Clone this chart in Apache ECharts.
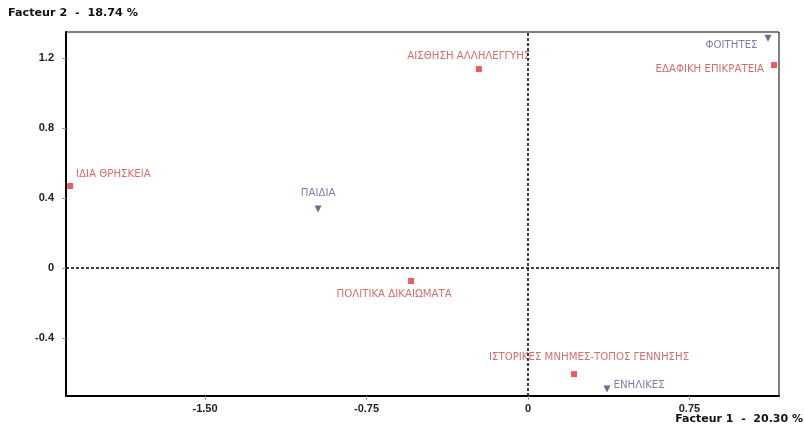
<!DOCTYPE html>
<html><head><meta charset="utf-8">
<script src="https://cdn.jsdelivr.net/npm/echarts@6/dist/echarts.min.js"></script>
<style>html,body{margin:0;padding:0;background:#fff}#c{width:804px;height:430px}</style>
</head><body><div id="c"></div>
<script>
// Data
const varNames = ['ΙΔΙΑ ΘΡΗΣΚΕΙΑ','ΑΙΣΘΗΣΗ ΑΛΛΗΛΕΓΓΥΗΣ','ΕΔΑΦΙΚΗ ΕΠΙΚΡΑΤΕΙΑ','ΠΟΛΙΤΙΚΑ ΔΙΚΑΙΩΜΑΤΑ','ΙΣΤΟΡΙΚΕΣ ΜΝΗΜΕΣ-ΤΟΠΟΣ ΓΕΝΝΗΣΗΣ'];
const varF1 = [-2.127, -0.228, 1.143, -0.543, 0.214];
const varF2 = [0.469, 1.137, 1.160, -0.074, -0.606];
const grpNames = ['ΠΑΙΔΙΑ','ΦΟΙΤΗΤΕΣ','ΕΝΗΛΙΚΕΣ'];
const grpF1 = [-0.975, 1.115, 0.367];
const grpF2 = [0.337, 1.314, -0.691];
const xTicks = [-1.5, -0.75, 0, 0.75];
const yTicks = [-0.4, 0, 0.4, 0.8, 1.2];
const xTitle = 'Facteur 1  -  20.30 %';
const yTitle = 'Facteur 2  -  18.74 %';

// label placement (style only)
const labelStyle = {
  'ΙΔΙΑ ΘΡΗΣΚΕΙΑ': {position: 'right', offset: [-2, -12]},
  'ΑΙΣΘΗΣΗ ΑΛΛΗΛΕΓΓΥΗΣ': {position: 'top', offset: [-10, 0]},
  'ΕΔΑΦΙΚΗ ΕΠΙΚΡΑΤΕΙΑ': {position: 'left', offset: [-2, 4]},
  'ΠΟΛΙΤΙΚΑ ΔΙΚΑΙΩΜΑΤΑ': {position: 'bottom', offset: [-17, 0]},
  'ΙΣΤΟΡΙΚΕΣ ΜΝΗΜΕΣ-ΤΟΠΟΣ ΓΕΝΝΗΣΗΣ': {position: 'top', offset: [15, -4]},
  'ΠΑΙΔΙΑ': {position: 'top', offset: [0, -2]},
  'ΦΟΙΤΗΤΕΣ': {position: 'left', offset: [-2, 7]},
  'ΕΝΗΛΙΚΕΣ': {position: 'right', offset: [-2, -4]}
};

function mk(names, xs, ys) {
  return names.map((n, i) => ({name: n, value: [xs[i], ys[i]], label: labelStyle[n]}));
}

const chart = echarts.init(document.getElementById('c'));
const labelFont = {fontFamily: 'DejaVu Sans, sans-serif', fontSize: 10.2};
chart.setOption({
  animation: false,
  backgroundColor: '#fff',
  grid: {left: 66, right: 25, top: 32, bottom: 34, show: true, borderColor: '#000', borderWidth: 1},
  xAxis: {
    type: 'value', min: -2.146, max: 1.166,
    axisLine: {onZero: false, lineStyle: {color: '#000', width: 2}},
    axisTick: {show: true, length: 4, customValues: xTicks, lineStyle: {color: '#999'}},
    axisLabel: {customValues: xTicks, margin: 7, color: '#222', fontSize: 11, fontWeight: 'bold', fontFamily: 'Arial, Liberation Sans, sans-serif',
      formatter: v => v === 0 ? '0' : v.toFixed(2)},
    splitLine: {show: false}
  },
  yAxis: {
    type: 'value', min: -0.731, max: 1.349,
    axisLine: {onZero: false, lineStyle: {color: '#000', width: 2}},
    axisTick: {show: true, length: 4, customValues: yTicks, lineStyle: {color: '#999'}},
    axisLabel: {customValues: yTicks, margin: 12, color: '#222', fontSize: 11, fontWeight: 'bold', fontFamily: 'Arial, Liberation Sans, sans-serif',
      formatter: v => v === 0 ? '0' : v.toFixed(1)},
    splitLine: {show: false}
  },
  graphic: [
    {type: 'text', left: 8, top: 8, style: {text: yTitle, fontSize: 11.2, fontWeight: 'bold', fontFamily: 'DejaVu Sans, sans-serif', fill: '#111'}},
    {type: 'text', right: 1, top: 414, style: {text: xTitle, fontSize: 11, fontWeight: 'bold', fontFamily: 'DejaVu Sans, sans-serif', fill: '#111'}}
  ],
  series: [
    {
      type: 'scatter', name: 'vars', symbol: 'rect', symbolSize: 6,
      itemStyle: {color: '#e8323a'},
      label: Object.assign({show: true, formatter: '{b}', color: '#cc4848'}, labelFont),
      data: mk(varNames, varF1, varF2),
      markLine: {
        silent: true, symbol: 'none', label: {show: false},
        lineStyle: {color: '#000', type: [3, 2], width: 1.5},
        data: [{xAxis: 0}, {yAxis: 0}]
      }
    },
    {
      type: 'scatter', name: 'grps', symbol: 'triangle', symbolRotate: 180, symbolSize: 7,
      itemStyle: {color: '#404878'},
      label: Object.assign({show: true, formatter: '{b}', color: '#5a5f90'}, labelFont),
      data: mk(grpNames, grpF1, grpF2)
    }
  ]
});
</script></body></html>
